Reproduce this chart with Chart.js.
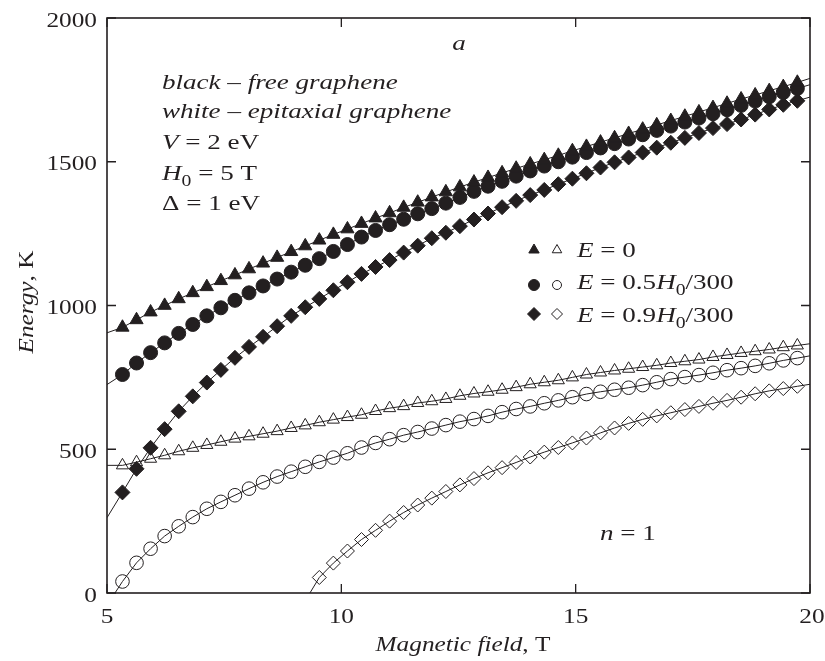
<!DOCTYPE html>
<html>
<head>
<meta charset="utf-8">
<script src="https://cdn.jsdelivr.net/npm/chart.js@4.4.1/dist/chart.umd.min.js"></script>
<style>
  html, body { margin: 0; padding: 0; background: #fff; }
</style>
</head>
<body>
<canvas id="grafik" width="825" height="661"></canvas>
<script>
// magnetic field grid where the markers sit (T)
const fieldX = [5.33, 5.63, 5.93, 6.23, 6.53, 6.83, 7.13, 7.43, 7.73, 8.03,
  8.33, 8.63, 8.93, 9.23, 9.53, 9.83, 10.13, 10.43, 10.73, 11.03,
  11.33, 11.63, 11.93, 12.23, 12.53, 12.83, 13.13, 13.43, 13.73, 14.03,
  14.33, 14.63, 14.93, 15.23, 15.53, 15.83, 16.13, 16.43, 16.73, 17.03,
  17.33, 17.63, 17.93, 18.23, 18.53, 18.83, 19.13, 19.43, 19.73];
const fieldXHigh = [9.53, 9.83, 10.13, 10.43, 10.73, 11.03,
  11.33, 11.63, 11.93, 12.23, 12.53, 12.83, 13.13, 13.43, 13.73, 14.03,
  14.33, 14.63, 14.93, 15.23, 15.53, 15.83, 16.13, 16.43, 16.73, 17.03,
  17.33, 17.63, 17.93, 18.23, 18.53, 18.83, 19.13, 19.43, 19.73];

// energies (K)
const freeE0 = [924, 950, 977, 1000, 1023, 1044, 1065, 1086, 1106, 1127,
  1147, 1167, 1187, 1207, 1227, 1247, 1266, 1285, 1304, 1322,
  1341, 1359, 1377, 1395, 1412, 1429, 1445, 1461, 1477, 1492,
  1507, 1522, 1538, 1553, 1568, 1583, 1598, 1613, 1628, 1643,
  1658, 1673, 1688, 1703, 1718, 1732, 1747, 1761, 1776];
const freeE05 = [760, 800, 836, 870, 903, 934, 964, 992, 1018, 1044,
  1068, 1092, 1116, 1140, 1163, 1188, 1212, 1238, 1261, 1281,
  1300, 1319, 1337, 1356, 1376, 1397, 1415, 1432, 1450, 1468,
  1485, 1500, 1516, 1532, 1548, 1563, 1579, 1594, 1609, 1624,
  1638, 1652, 1667, 1681, 1696, 1711, 1726, 1741, 1755];
const freeE09 = [350, 432, 505, 570, 632, 684, 732, 776, 818, 856,
  891, 928, 964, 994, 1023, 1053, 1081, 1110, 1134, 1158,
  1184, 1208, 1234, 1253, 1276, 1299, 1320, 1342, 1364, 1384,
  1402, 1422, 1441, 1460, 1480, 1498, 1515, 1532, 1549, 1566,
  1583, 1600, 1617, 1631, 1647, 1664, 1682, 1698, 1712];
const epiE0 = [444, 455, 467, 479, 493, 505, 515, 526, 537, 545,
  554, 563, 574, 583, 594, 603, 612, 620, 633, 643,
  650, 661, 667, 675, 686, 694, 700, 707, 716, 726,
  733, 740, 750, 760, 767, 774, 780, 786, 792, 800,
  806, 812, 821, 828, 835, 841, 847, 855, 861];
const epiE05 = [40, 105, 154, 198, 232, 264, 293, 317, 340, 363,
  385, 405, 422, 439, 456, 471, 486, 506, 522, 535,
  549, 560, 572, 584, 596, 605, 616, 629, 640, 649,
  660, 670, 681, 692, 700, 707, 714, 723, 733, 744,
  751, 758, 766, 775, 782, 790, 799, 809, 817];
const epiE09 = [54, 104, 146, 186, 218, 250,
  280, 306, 330, 353, 376, 398, 418, 436, 454, 473,
  490, 506, 522, 539, 557, 574, 590, 604, 616, 627,
  638, 649, 660, 670, 681, 693, 703, 711, 719];

// where the fitted curves begin and end
const curveStartX = [5, 5, 5, 5, 5.17, 9.33];
const curveStartY = [905, 725, 262, 444, 0, 0];
const curveEndY = [1790, 1768, 1725, 867, 825, 726];

const xTicks = [5, 10, 15, 20];
const yTicks = [0, 500, 1000, 1500, 2000];

const INK = "#231f20";
const SERIF = '"Liberation Serif", "Times New Roman", serif';
// the lettering of the original is wider than plain Times
const SX_AXIS = 1.15;
const SX_NOTE = 1.23;

function buatSeri(idx, xs, ys, style, filled, r) {
  const pts = [{ x: curveStartX[idx], y: curveStartY[idx] }];
  xs.forEach((x, i) => pts.push({ x, y: ys[i] }));
  pts.push({ x: 20, y: curveEndY[idx] });
  const last = pts.length - 1;
  return {
    data: pts,
    showLine: true,
    borderColor: INK,
    borderWidth: 1,
    pointStyle: style,
    pointRadius: c => (c.dataIndex === 0 || c.dataIndex === last) ? 0 : r,
    pointBackgroundColor: filled ? INK : "rgba(0,0,0,0)",
    pointBorderColor: INK,
    pointBorderWidth: 1,
    tension: 0
  };
}

// text with mixed italic / roman / subscript parts
function tulis(ctx, parts, x, y, size, align, sx) {
  const fontOf = p => (p.i ? "italic " : "") + (p.sub ? Math.round(size * 0.72) : size) + "px " + SERIF;
  let w = 0;
  parts.forEach(p => { ctx.font = fontOf(p); w += ctx.measureText(p.t).width; });
  ctx.save();
  ctx.translate(x, y);
  ctx.scale(sx || SX_AXIS, 1);
  let cx = align === "center" ? -w / 2 : align === "right" ? -w : 0;
  ctx.fillStyle = INK;
  ctx.textBaseline = "alphabetic";
  ctx.textAlign = "left";
  parts.forEach(p => {
    ctx.font = fontOf(p);
    ctx.fillText(p.t, cx, p.sub ? size * 0.25 : 0);
    cx += ctx.measureText(p.t).width;
  });
  ctx.restore();
}

function marker(ctx, style, x, y, r, filled) {
  ctx.beginPath();
  if (style === "triangle") {
    ctx.moveTo(x, y - r);
    ctx.lineTo(x + r * 0.866, y + r * 0.5);
    ctx.lineTo(x - r * 0.866, y + r * 0.5);
    ctx.closePath();
  } else if (style === "circle") {
    ctx.arc(x, y, r, 0, Math.PI * 2);
  } else {
    ctx.moveTo(x, y - r);
    ctx.lineTo(x + r, y);
    ctx.lineTo(x, y + r);
    ctx.lineTo(x - r, y);
    ctx.closePath();
  }
  ctx.lineWidth = 1;
  ctx.strokeStyle = INK;
  ctx.fillStyle = INK;
  if (filled) ctx.fill();
  ctx.stroke();
}

const bingkai = {
  id: "bingkai",
  afterDraw(chart) {
    const ctx = chart.ctx;
    const a = chart.chartArea;
    const sx = chart.scales.x, sy = chart.scales.y;
    ctx.save();
    ctx.strokeStyle = INK;
    ctx.lineWidth = 1.6;
    ctx.strokeRect(a.left, a.top, a.right - a.left, a.bottom - a.top);

    ctx.lineWidth = 1.3;
    ctx.beginPath();
    xTicks.forEach(v => {
      const px = sx.getPixelForValue(v);
      ctx.moveTo(px, a.bottom); ctx.lineTo(px, a.bottom - 9);
      ctx.moveTo(px, a.top); ctx.lineTo(px, a.top + 9);
    });
    yTicks.forEach(v => {
      const py = sy.getPixelForValue(v);
      ctx.moveTo(a.left, py); ctx.lineTo(a.left + 9, py);
      ctx.moveTo(a.right, py); ctx.lineTo(a.right - 9, py);
    });
    ctx.stroke();

    xTicks.forEach(v => tulis(ctx, [{ t: String(v) }], sx.getPixelForValue(v) + (v === 20 ? 2 : 0), 623, 22, "center"));
    yTicks.forEach(v => tulis(ctx, [{ t: String(v) }], 97, sy.getPixelForValue(v) + 8.5, 22, "right"));

    // axis titles
    tulis(ctx, [{ t: "Magnetic field", i: true }, { t: ", T" }], 463, 651, 22, "center");
    ctx.save();
    ctx.translate(33, 302);
    ctx.rotate(-Math.PI / 2);
    tulis(ctx, [{ t: "Energy", i: true }, { t: ", K" }], 0, 0, 22, "center");
    ctx.restore();

    // notes
    tulis(ctx, [{ t: "a", i: true }], 459, 50, 22, "center", SX_NOTE);
    tulis(ctx, [{ t: "black – free graphene", i: true }], 162, 89, 22, "left", SX_NOTE);
    tulis(ctx, [{ t: "white – epitaxial graphene", i: true }], 162, 118, 22, "left", SX_NOTE);
    tulis(ctx, [{ t: "V", i: true }, { t: " = 2 eV" }], 162, 149, 22, "left", SX_NOTE);
    tulis(ctx, [{ t: "H", i: true }, { t: "0", sub: true }, { t: " = 5 T" }], 162, 180, 22, "left", SX_NOTE);
    tulis(ctx, [{ t: "Δ = 1 eV" }], 162, 210, 22, "left", SX_NOTE);
    tulis(ctx, [{ t: "n", i: true }, { t: " = 1" }], 600, 540, 22, "left", SX_NOTE);

    // legend
    const rows = [
      ["triangle", 250, [{ t: "E", i: true }, { t: " = 0" }], 257],
      ["circle", 285, [{ t: "E", i: true }, { t: " = 0.5" }, { t: "H", i: true }, { t: "0", sub: true }, { t: "/300" }], 289],
      ["diamond", 314, [{ t: "E", i: true }, { t: " = 0.9" }, { t: "H", i: true }, { t: "0", sub: true }, { t: "/300" }], 322]
    ];
    rows.forEach(([st, my, txt, by]) => {
      const rf = st === "triangle" ? 6 : st === "circle" ? 5.5 : 6.5;
      const ro = st === "triangle" ? 5.5 : st === "circle" ? 4.5 : 5.5;
      marker(ctx, st, 534, my, rf, true);
      marker(ctx, st, 557, my, ro, false);
      tulis(ctx, txt, 577, by, 22, "left", SX_NOTE);
    });
    ctx.restore();
  }
};

const ctx = document.getElementById("grafik").getContext("2d");
new Chart(ctx, {
  type: "scatter",
  data: {
    datasets: [
      buatSeri(3, fieldX, epiE0, "triangle", false, 7),
      buatSeri(4, fieldX, epiE05, "circle", false, 6.8),
      buatSeri(5, fieldXHigh, epiE09, "rectRot", false, 7),
      buatSeri(0, fieldX, freeE0, "triangle", true, 7.6),
      buatSeri(1, fieldX, freeE05, "circle", true, 7),
      buatSeri(2, fieldX, freeE09, "rectRot", true, 7.5)
    ]
  },
  options: {
    responsive: false,
    devicePixelRatio: 1,
    animation: false,
    layout: { padding: { left: 107, right: 15, top: 18, bottom: 68 } },
    scales: {
      x: { type: "linear", min: 5, max: 20, display: false },
      y: { type: "linear", min: 0, max: 2000, display: false }
    },
    plugins: {
      legend: { display: false },
      tooltip: { enabled: false }
    }
  },
  plugins: [bingkai]
});
</script>
</body>
</html>
